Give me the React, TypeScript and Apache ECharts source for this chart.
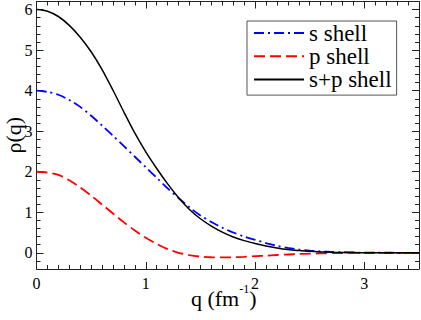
import React, { useEffect, useRef } from "react";
import * as echarts from "echarts";

const qValues = [
  0, 0.1, 0.2, 0.3, 0.4, 0.5, 0.6, 0.7, 0.8, 0.9, 1.0, 1.1, 1.2, 1.3, 1.4, 1.5, 1.6, 1.7,
  1.8, 1.9, 2.0, 2.1, 2.2, 2.3, 2.4, 2.5, 2.6, 2.7, 2.8, 2.9, 3.0, 3.1, 3.2, 3.3, 3.4, 3.5,
];
const sShell = [
  4.0, 3.97, 3.9, 3.77, 3.6, 3.38, 3.14, 2.89, 2.63, 2.37, 2.11, 1.85, 1.59, 1.35, 1.12, 0.92,
  0.76, 0.62, 0.5, 0.4, 0.32, 0.24, 0.17, 0.12, 0.08, 0.055, 0.035, 0.022, 0.014, 0.008, 0.004,
  0.002, 0.001, 0, 0, 0,
];
const pShell = [
  2.0, 1.98, 1.92, 1.79, 1.61, 1.41, 1.19, 0.97, 0.75, 0.55, 0.37, 0.22, 0.09, 0.0, -0.06,
  -0.095, -0.11, -0.115, -0.11, -0.1, -0.085, -0.07, -0.055, -0.042, -0.03, -0.022, -0.015,
  -0.01, -0.006, -0.003, -0.001, 0, 0, 0, 0, 0,
];
const spShell = [
  6.0, 5.96, 5.83, 5.61, 5.32, 4.96, 4.52, 4.01, 3.47, 2.95, 2.49, 2.08, 1.7, 1.36, 1.07, 0.84,
  0.66, 0.51, 0.39, 0.3, 0.23, 0.17, 0.12, 0.08, 0.055, 0.035, 0.022, 0.013, 0.008, 0.005,
  0.003, 0.002, 0.001, 0, 0, 0,
];
const seriesNames = ["s shell", "p shell", "s+p shell"];
const xLabel = "{a|q (fm}{s|-1}{a|)}";
const yLabel = "ρ(q)";

export default function App() {
  const ref = useRef<HTMLDivElement>(null);
  useEffect(() => {
    document.body.style.margin = "0";
    const chart = echarts.init(ref.current!, null, { renderer: "svg" });
    const font = "'Liberation Serif', 'Times New Roman', Times, serif";
    const lineCol = "#222";
    const axisLine = { show: true, onZero: false, lineStyle: { color: lineCol, width: 1 } };
    const axisTick = { show: true, inside: true, length: 7, lineStyle: { color: lineCol, width: 1 } };
    const minorX = { show: true, splitNumber: 10, length: 4, lineStyle: { color: lineCol, width: 1 } };
    const minorY = { show: true, splitNumber: 5, length: 4, lineStyle: { color: lineCol, width: 1 } };
    const labelStyle = { fontFamily: font, fontSize: 16, color: "#000" };

    const xCommon = {
      type: "value",
      min: 0,
      max: 3.5,
      interval: 1,
      axisLine,
      axisTick,
      minorTick: minorX,
      splitLine: { show: false },
      minorSplitLine: { show: false },
    };
    const yCommon = {
      type: "value",
      min: -0.4,
      max: 6.2,
      minInterval: 1,
      maxInterval: 1,
      axisLine,
      axisTick,
      minorTick: minorY,
      splitLine: { show: false },
      minorSplitLine: { show: false },
    };

    const mk = (vals: number[]) => qValues.map((q, i) => [q, vals[i]]);

    chart.setOption({
      animation: false,
      backgroundColor: "#fff",
      textStyle: { fontFamily: font },
      grid: {
        left: 36.5,
        right: 2,
        top: 1.5,
        bottom: 51,
        containLabel: false,
        outerBoundsMode: "none",
      },
      xAxis: [
        {
          ...xCommon,
          position: "bottom",
          axisLabel: { ...labelStyle, margin: 6, showMaxLabel: false },
          name: xLabel,
          nameLocation: "middle",
          nameGap: 14,
          nameMoveOverlap: false,
          nameTextStyle: {
            fontFamily: font,
            padding: [0, 8, 0, 0],
            rich: {
              a: { fontFamily: font, fontSize: 22, color: "#000", lineHeight: 30 },
              s: { fontFamily: font, fontSize: 12, color: "#000", lineHeight: 9, verticalAlign: "top" },
            },
          },
        },
        { ...xCommon, position: "top", axisLabel: { show: false } },
      ],
      yAxis: [
        {
          ...yCommon,
          position: "left",
          axisLabel: { ...labelStyle, margin: 4, showMinLabel: false, showMaxLabel: false },
          name: yLabel,
          nameLocation: "middle",
          nameGap: 13,
          nameMoveOverlap: false,
          nameTextStyle: { fontFamily: font, fontSize: 22, color: "#000", lineHeight: 20 },
        },
        { ...yCommon, position: "right", axisLabel: { show: false } },
      ],
      legend: {
        data: seriesNames,
        orient: "vertical",
        left: 247,
        top: 21,
        itemWidth: 50,
        itemHeight: 14,
        itemGap: 0.3,
        padding: [0.5, 5, 4, 6],
        backgroundColor: "#fff",
        borderColor: "#555",
        borderWidth: 1,
        borderRadius: 0,
        itemStyle: { opacity: 0 },
        textStyle: { fontFamily: font, fontSize: 23, color: "#000", lineHeight: 23 },
      },
      series: [
        {
          name: seriesNames[0],
          type: "line",
          data: mk(sShell),
          symbol: "none",
          smooth: 0.3,
          lineStyle: { color: "#0000ff", width: 1.8, type: [10, 4, 2, 4] },
          itemStyle: { color: "#0000ff" },
          z: 3,
        },
        {
          name: seriesNames[1],
          type: "line",
          data: mk(pShell),
          symbol: "none",
          smooth: 0.3,
          lineStyle: { color: "#ff0000", width: 1.8, type: [11, 5] },
          itemStyle: { color: "#ff0000" },
          z: 2,
        },
        {
          name: seriesNames[2],
          type: "line",
          data: mk(spShell),
          symbol: "none",
          smooth: 0.3,
          lineStyle: { color: "#000000", width: 1.5, type: "solid" },
          itemStyle: { color: "#000000" },
          z: 4,
        },
      ],
    });
    return () => chart.dispose();
  }, []);
  return (
    <div
      ref={ref}
      style={{ position: "absolute", left: 0, top: 0, width: 421, height: 320 }}
    />
  );
}
